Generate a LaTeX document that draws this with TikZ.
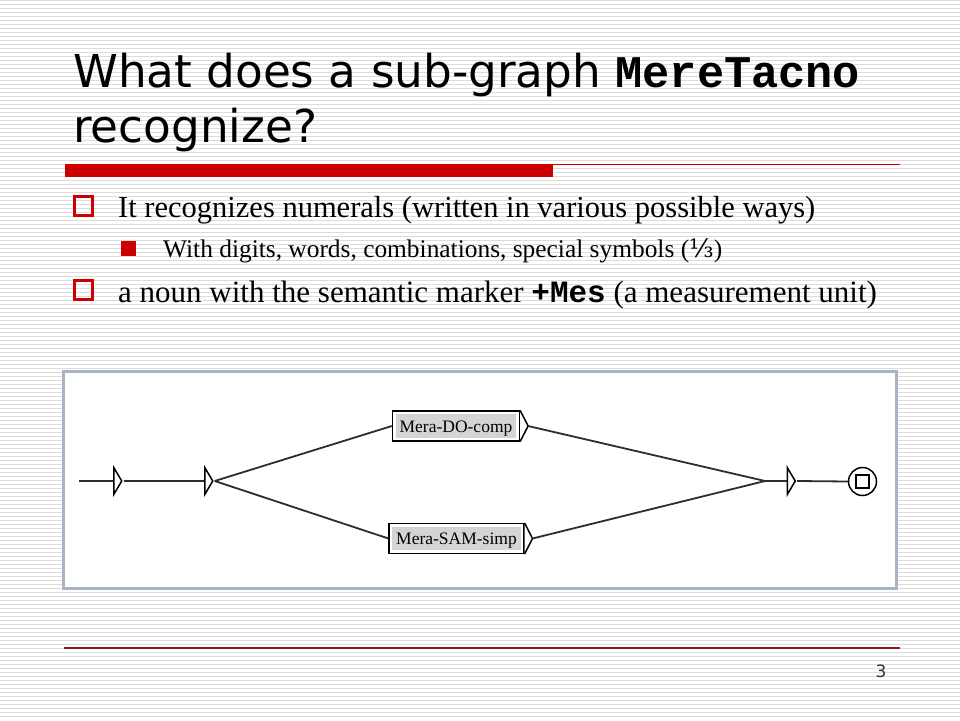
\documentclass[tikz,border=0pt]{standalone}
\usepackage{fontspec}
\setmainfont{Liberation Serif}
\setsansfont{DejaVu Sans}
\setmonofont{Liberation Mono}
\newfontfamily\fracfont{DejaVu Serif}
\usetikzlibrary{shapes.geometric, calc}
\definecolor{slidered}{RGB}{204,0,0}
\definecolor{darkline}{RGB}{140,28,28}
\definecolor{framegray}{RGB}{168,179,196}
\definecolor{stripegray}{RGB}{220,220,220}
\definecolor{boxgray}{RGB}{212,212,212}
\definecolor{edgegray}{RGB}{45,45,45}
\newcommand{\termlabel}[1]{{\setlength{\fboxsep}{2pt}\colorbox{boxgray}{\hspace{2pt}\rule[-2.5pt]{0pt}{18.5pt}#1\hspace{2pt}}}}

\begin{document}
\begin{tikzpicture}[x=1pt, y=-1pt,
  arrowtri/.style={isosceles triangle, isosceles triangle stretches, draw=black, fill=white, line width=1.5pt, inner sep=0pt, minimum width=27pt, minimum height=8pt, anchor=lower side},
  termbox/.style={draw=black, fill=white, line width=1.5pt, inner sep=3pt, font=\fontsize{17.5}{17.5}\selectfont},
  edge/.style={draw=edgegray, line width=1.8pt},
  hollowbul/.style={draw=slidered, line width=2.8pt, minimum size=18.5pt, inner sep=0pt},
  fullbul/.style={fill=slidered, minimum size=15pt, inner sep=0pt}]
  \useasboundingbox (0,0) rectangle (960,720);

  % Striped background
  \fill[white] (0,0) rectangle (960,720);
  \foreach \i in {0,...,179}
    \draw[stripegray, line width=1.1pt] (0,4*\i+0.7) -- (960,4*\i+0.7);

  % Title
  \node[anchor=base west, inner sep=0pt, font=\sffamily\fontsize{45.3}{55}\selectfont] (title1) at (73,87)
    {What does a sub-graph {\ttfamily\bfseries MereTacno}};
  \node[anchor=base west, inner sep=0pt, font=\sffamily\fontsize{45.3}{55}\selectfont] (title2) at (73,142)
    {recognize?};
  \fill[slidered] (65,164) rectangle (553,177);
  \draw[slidered, line width=1.2pt] (553,164.5) -- (900,164.5);

  % Bullets
  \node[hollowbul] (b1) at (83.5,206) {};
  \node[anchor=base west, inner sep=0pt, font=\fontsize{30.5}{36}\selectfont] (l1) at (118,217)
    {It recognizes numerals (written in various possible ways)};
  \node[fullbul] (b2) at (128,248.5) {};
  \node[anchor=base west, inner sep=0pt, font=\fontsize{25.4}{30}\selectfont] (l2) at (163,257)
    {With digits, words, combinations, special symbols ({\fracfont ⅓})};
  \node[hollowbul] (b3) at (83.5,290) {};
  \node[anchor=base west, inner sep=0pt, font=\fontsize{31}{36}\selectfont] (l3) at (118,302)
    {a noun with the semantic marker {\ttfamily\bfseries +Mes} (a measurement unit)};

  % Graph frame
  \draw[framegray, fill=white, line width=3pt] (63.5,371.5) rectangle (896.5,588.5);

  % States and boxes
  \coordinate (start) at (79,481);
  \node[arrowtri] (t1) at (113,481) {};
  \node[arrowtri] (t2) at (204,481) {};
  \node[termbox] (dobox) at (456,426) {\termlabel{Mera-DO-comp}};
  \node[termbox] (sambox) at (456.5,538.5) {\termlabel{Mera-SAM-simp}};
  \draw[line width=1.5pt, fill=white] (dobox.north east) -- ($(dobox.east)+(8,0)$) coordinate (dotip) -- (dobox.south east);
  \draw[line width=1.5pt, fill=white] (sambox.north east) -- ($(sambox.east)+(8,0)$) coordinate (samtip) -- (sambox.south east);
  \coordinate (join) at (765,481);
  \node[arrowtri] (t3) at (786.5,481) {};
  \node[circle, draw=black, line width=1.5pt, minimum size=28pt, inner sep=0pt] (fin) at (862.5,481.5) {};
  \node[draw=black, line width=1.5pt, minimum size=13pt, inner sep=0pt] (finsq) at (fin) {};

  % Transitions
  \draw[edge] (start) -- (t1.lower side);
  \draw[edge] (t1.apex) -- (t2.lower side);
  \draw[edge] (t2.apex) -- (dobox.west);
  \draw[edge] (t2.apex) -- (sambox.west);
  \draw[edge] (dotip) -- (join);
  \draw[edge] (samtip) -- (join);
  \draw[edge] (join) -- (t3.lower side);
  \draw[edge] (t3.apex) -- (fin.west);

  % Footer
  \draw[darkline, line width=1.5pt] (64,648) -- (900,648);
  \node[anchor=base, inner sep=0pt, text=black!80, font=\sffamily\fontsize{17}{17}\selectfont] (pagenum) at (881,677) {3};
\end{tikzpicture}
\end{document}
